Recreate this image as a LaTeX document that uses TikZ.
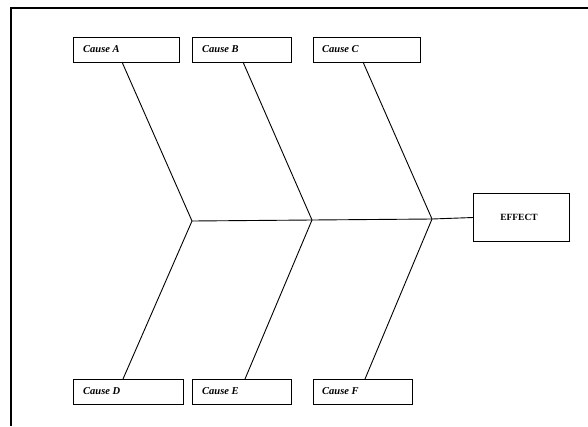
\documentclass[tikz,border=0pt]{standalone}
\usepackage{fontspec}
\setmainfont{Liberation Serif}
\begin{document}
\begin{tikzpicture}[x=1pt,y=-1pt,
  causebox/.style={draw,line width=0.9pt,inner sep=0pt,anchor=north west},
  causetext/.style={anchor=west,inner sep=0pt,font=\bfseries\itshape\fontsize{10.5}{12}\selectfont},
  bone/.style={line width=0.9pt}]
\useasboundingbox (0,0) rectangle (588,426);
\draw[line width=1.6pt] (11,426) -- (11,8) -- (588,8);
% top boxes
\node[causebox,minimum width=106pt,minimum height=25pt] (A) at (73,37) {};
\node[causetext] (At) at (83,49) {Cause A};
\node[causebox,minimum width=99pt,minimum height=25pt] (B) at (192,37) {};
\node[causetext] (Bt) at (202,49) {Cause B};
\node[causebox,minimum width=107pt,minimum height=25pt] (C) at (313,37) {};
\node[causetext] (Ct) at (322,49) {Cause C};
% bottom boxes
\node[causebox,minimum width=110pt,minimum height=25pt] (D) at (73,379) {};
\node[causetext] (Dt) at (83,391) {Cause D};
\node[causebox,minimum width=99pt,minimum height=25pt] (E) at (192,379) {};
\node[causetext] (Et) at (202,391) {Cause E};
\node[causebox,minimum width=99pt,minimum height=25pt] (F) at (313,379) {};
\node[causetext] (Ft) at (322,391) {Cause F};
% effect
\node[draw,line width=0.9pt,minimum width=96pt,minimum height=48pt,anchor=north west,inner sep=0pt] (Eff) at (473,193) {};
\node[font=\bfseries\fontsize{9.5}{11}\selectfont] (Efft) at (519,217) {EFFECT};
% junctions
\coordinate (J1) at (192,221);
\coordinate (J2) at (312,220);
\coordinate (J3) at (432,219);
\coordinate (S) at (473,217.5);
\draw[bone] (J1) -- (J2) -- (J3) -- (S);
\draw[bone] (122,62) -- (J1) -- (123,379);
\draw[bone] (243,62) -- (J2) -- (245,379);
\draw[bone] (363,62) -- (J3) -- (365,379);
\end{tikzpicture}
\end{document}
